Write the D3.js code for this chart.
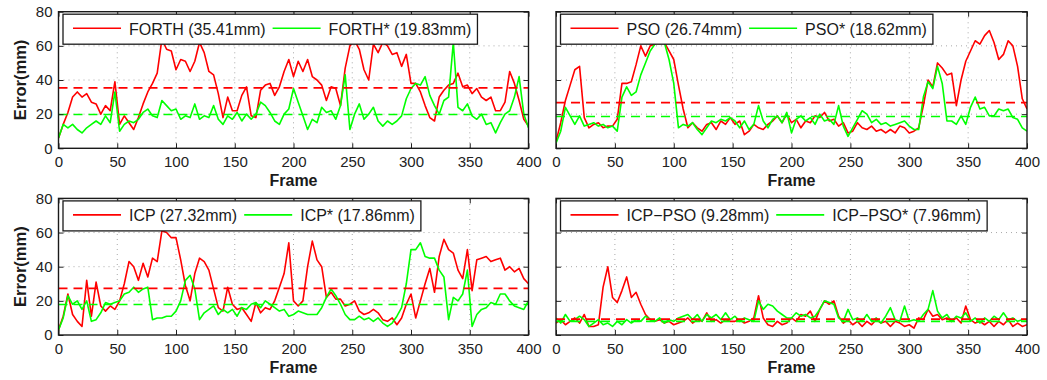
<!DOCTYPE html>
<html>
<head>
<meta charset="utf-8">
<script src="https://cdn.jsdelivr.net/npm/d3@7"></script>
<style>
body{ margin:0; background:#fff; }
text{ font-family: Arial, "Liberation Sans", sans-serif; }
</style>
</head>
<body>
<svg id="chart" width="1047" height="380"></svg>
<script>

let frames = d3.range(0, 401, 4)
let xTicks = [0, 50, 100, 150, 200, 250, 300, 350, 400]
let yTicks = [0, 20, 40, 60, 80]

let forthErr = [6,14,21,30,33,30,32,27,26,20, 25,22,39,14,19,15,11,18,26,33, 38,44,64,58,57,46,52,51,45,51,
    62,56,45,43,32,18,30,22,22,31, 36,19,18,34,37,38,31,36,45,52, 42,51,45,52,42,40,37,28,36,35,
    25,47,60,63,58,46,40,61,56,62, 60,55,56,48,55,38,38,33,25,18, 16,30,34,37,38,44,36,37,32,35,
    30,28,30,22,22,27,45,38,28,17, 13]
let forthStarErr = [6,14,12,14,11,9,12,14,16,14, 19,15,33,10,14,16,15,17,21,23, 19,18,28,25,22,23,17,19,18,26,
    17,19,18,25,17,14,19,17,21,16, 20,17,20,27,25,21,16,14,20,23, 35,27,19,11,17,15,24,21,22,17,
    25,43,11,20,26,17,20,24,16,13, 16,14,16,19,29,35,38,37,42,31, 25,20,28,30,62,24,22,26,19,17,
    20,14,15,9,15,20,22,30,42,20, 12]
let psoErr = [4,15,28,37,46,48,18,12,14,15, 12,13,13,17,38,38,39,49,60,54, 60,61,63,62,57,52,37,23,12,15,
    12,10,14,15,11,16,14,18,14,16, 8,10,14,12,11,14,16,19,15,20, 15,17,12,16,15,19,18,21,16,17,
    13,15,9,10,15,12,11,13,10,11, 9,11,9,13,12,9,10,12,25,40, 36,50,47,43,44,25,40,51,57,63,
    61,66,69,62,52,55,63,60,48,29, 23]
let psoStarErr = [3,10,24,19,14,19,13,14,15,13, 14,12,13,10,30,36,31,33,43,50, 57,61,63,62,52,38,12,14,13,15,
    11,8,12,16,15,17,16,18,16,12, 16,11,14,25,16,12,17,19,15,21, 9,17,19,16,18,14,20,16,17,14,
    25,13,7,12,17,22,20,15,17,14, 15,13,14,15,16,13,11,11,30,39, 35,48,38,16,16,14,19,14,24,30,
    23,24,19,19,23,22,23,18,17,12, 10]
let icpErr = [3,11,24,12,8,5,32,11,31,17, 14,17,15,20,30,43,40,32,42,34, 45,43,61,60,57,57,44,29,20,36,
    45,43,38,27,16,14,28,18,15,16, 12,8,19,13,16,15,20,28,36,54, 20,17,20,40,55,44,40,22,25,21,
    21,17,18,20,14,12,13,15,13,9, 8,10,6,10,18,24,10,20,30,39, 25,46,56,50,48,38,33,50,26,44,
    45,46,43,44,45,38,40,37,39,33, 30]
let icpStarErr = [3,10,23,18,20,15,20,8,9,13, 19,18,19,20,24,25,28,25,27,28, 9,10,10,11,11,14,20,32,35,27,
    9,13,15,17,12,15,13,15,11,16, 15,18,19,16,20,18,16,14,15,11, 12,14,13,12,12,12,16,22,27,23,
    18,12,9,9,11,9,10,8,10,7, 5,7,11,16,30,50,50,54,46,45, 45,38,34,9,22,20,24,38,5,12,
    15,16,19,18,24,24,20,17,16,15, 20]
let icpPsoErr = [7,9,6,8,10,7,12,5,5,6, 28,40,22,19,26,34,22,25,18,12, 9,8,9,7,8,6,7,8,10,7,
    9,8,13,8,9,7,9,8,8,9, 7,8,10,23,10,6,5,8,6,7, 10,8,12,11,14,8,15,20,18,20,
    11,7,9,6,8,5,8,6,9,7, 8,5,8,7,5,6,4,10,9,15, 11,12,9,10,8,10,7,17,9,7,
    8,6,8,5,8,6,9,5,7,5, 6]
let icpPsoStarErr = [10,7,12,8,9,11,9,5,7,9, 6,7,5,8,6,9,7,9,8,11, 9,8,10,7,9,8,10,11,12,9,
    12,8,12,10,12,9,13,9,11,8, 10,9,8,20,15,18,17,14,12,10, 10,13,11,12,10,11,15,20,19,18,
    10,8,15,9,10,8,12,8,10,7, 11,16,9,8,17,8,9,8,12,15, 26,14,10,12,8,11,10,13,8,10,
    7,10,8,11,9,13,9,10,8,9, 9]

let seriesNames = [["FORTH", "FORTH*"], ["PSO", "PSO*"], ["ICP", "ICP*"], ["ICP\u2212PSO", "ICP\u2212PSO*"]]
let seriesValues = [[forthErr, forthStarErr], [psoErr, psoStarErr], [icpErr, icpStarErr], [icpPsoErr, icpPsoStarErr]]
let meanErr = [[35.41, 19.83], [26.74, 18.62], [27.32, 17.86], [9.28, 7.96]]
let colors = ["#ff0000", "#00ff00"]

let svg = d3.select("#chart")

let boxes = [
    {x0: 58.5, x1: 528.5, y0: 148.3, y1: 11.7, yLabels: true},
    {x0: 556, x1: 1027, y0: 148.3, y1: 11.7, yLabels: false},
    {x0: 58.5, x1: 528.5, y0: 335, y1: 198.4, yLabels: true},
    {x0: 556, x1: 1027, y0: 335, y1: 198.4, yLabels: false}
]

let drawPanel = function(b, k){

    let x = d3.scaleLinear().domain([0, 400]).range([b.x0, b.x1])
    let y = d3.scaleLinear().domain([0, 80]).range([b.y0, b.y1])
    let g = svg.append("g")

    g.append("clipPath").attr("id", "clip" + k)
        .append("rect")
            .attr("x", b.x0).attr("y", b.y1)
            .attr("width", b.x1 - b.x0).attr("height", b.y0 - b.y1)

    // dotted grid
    g.selectAll(".gx").data(xTicks.slice(1, -1)).enter()
        .append("line")
            .attr("x1", d => x(d)).attr("x2", d => x(d))
            .attr("y1", y(0)).attr("y2", y(80))
            .attr("stroke", "#a8a8a8").attr("stroke-dasharray", "1,4")
    g.selectAll(".gy").data(yTicks.slice(1, -1)).enter()
        .append("line")
            .attr("y1", d => y(d)).attr("y2", d => y(d))
            .attr("x1", x(0)).attr("x2", x(400))
            .attr("stroke", "#a8a8a8").attr("stroke-dasharray", "1,4")

    let line = d3.line().x((d, i) => x(frames[i])).y(d => y(d))
    let plot = g.append("g").attr("clip-path", "url(#clip" + k + ")")

    seriesValues[k].forEach((vals, j) => {
        plot.append("path")
            .attr("d", line(vals))
            .attr("fill", "none")
            .attr("stroke", colors[j])
            .attr("stroke-width", 1.6)
            .attr("stroke-linejoin", "round")
    })
    meanErr[k].forEach((m, j) => {
        plot.append("line")
            .attr("x1", x(0)).attr("x2", x(400))
            .attr("y1", y(m)).attr("y2", y(m))
            .attr("stroke", colors[j])
            .attr("stroke-width", 1.6)
            .attr("stroke-dasharray", "9,6")
    })

    // axes, ticks pointing inward on all four sides
    let ax = g.append("g").attr("transform", `translate(0,${b.y0})`)
        .call(d3.axisBottom(x).tickValues(xTicks).tickSize(-5).tickPadding(8))
    let ay = g.append("g").attr("transform", `translate(${b.x0},0)`)
        .call(d3.axisLeft(y).tickValues(yTicks).tickSize(-5).tickPadding(6)
            .tickFormat(b.yLabels ? d3.format("d") : ""))
    g.append("g").attr("transform", `translate(0,${b.y1})`)
        .call(d3.axisTop(x).tickValues(xTicks).tickSize(-5).tickFormat(""))
    g.append("g").attr("transform", `translate(${b.x1},0)`)
        .call(d3.axisRight(y).tickValues(yTicks).tickSize(-5).tickFormat(""))

    g.selectAll(".domain").remove()
    g.selectAll(".tick line").attr("stroke", "#222").attr("stroke-width", 1)
    g.selectAll(".tick text")
        .attr("fill", "#222")
        .style("font-size", "15px")
        .style("font-family", "Arial, 'Liberation Sans', sans-serif")

    g.append("rect")
        .attr("x", b.x0).attr("y", b.y1)
        .attr("width", b.x1 - b.x0).attr("height", b.y0 - b.y1)
        .attr("fill", "none").attr("stroke", "#1a1a1a").attr("stroke-width", 1.4)

    g.append("text")
        .attr("x", (b.x0 + b.x1) / 2).attr("y", b.y0 + 38)
        .attr("text-anchor", "middle")
        .style("font-size", "16px").style("font-weight", "bold")
        .attr("fill", "#1a1a1a")
        .text("Frame")

    if (b.yLabels) {
        g.append("text")
            .attr("transform", `translate(26,${(b.y0 + b.y1) / 2}) rotate(-90)`)
            .attr("text-anchor", "middle")
            .style("font-size", "16.5px").style("font-weight", "bold")
            .attr("fill", "#1a1a1a")
            .text("Error(mm)")
    }

    // legend
    let lx = b.x0 + 4.5, ly = b.y1 + 2.5, lh = 30
    let leg = g.append("g")
    let box = leg.append("rect")
        .attr("x", lx).attr("y", ly).attr("height", lh)
        .attr("fill", "#fff").attr("stroke", "#1a1a1a").attr("stroke-width", 1.3)
    let cx = lx + 10
    seriesNames[k].forEach((name, j) => {
        leg.append("line")
            .attr("x1", cx).attr("x2", cx + 48)
            .attr("y1", ly + lh / 2 - 1).attr("y2", ly + lh / 2 - 1)
            .attr("stroke", colors[j]).attr("stroke-width", 1.6)
        let t = leg.append("text")
            .attr("x", cx + 56).attr("y", ly + lh / 2 + 5.5)
            .style("font-size", "16px")
            .attr("fill", "#1a1a1a")
            .text(`${name} (${meanErr[k][j].toFixed(2)}mm)`)
        cx = cx + 56 + t.node().getComputedTextLength() + 7
    })
    box.attr("width", cx - 1 - lx)
}

boxes.forEach(drawPanel)

</script>
</body>
</html>
